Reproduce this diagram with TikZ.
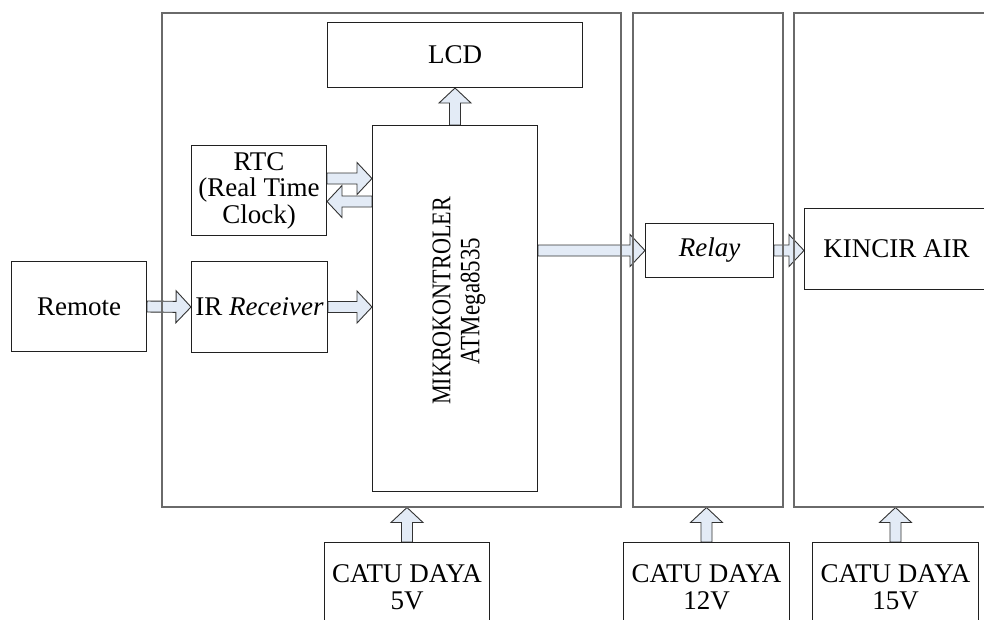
\documentclass[tikz,border=0pt]{standalone}
\usepackage{fontspec}
\setmainfont{Liberation Serif}
\newfontfamily\narrowserif[FakeStretch=0.82]{Liberation Serif}
\usepackage{tikz}
\usetikzlibrary{calc,backgrounds}

% hollow block arrow between two points
\newcommand{\blockarrow}[2]{%
  \draw[barrow] let \p1=(#1), \p2=(#2),
    \n1={atan2(\y2-\y1,\x2-\x1)}, \n2={veclen(\x2-\x1,\y2-\y1)} in
    [shift={(\p1)},rotate=\n1]
    (0pt,-5.5pt) -- ({(\n2-15)*1pt},-5.5pt) -- ({(\n2-15)*1pt},-16pt)
    -- ({\n2*1pt},0pt) -- ({(\n2-15)*1pt},16pt) -- ({(\n2-15)*1pt},5.5pt)
    -- (0pt,5.5pt) -- cycle;}

\begin{document}
\begin{tikzpicture}[
  x=1pt,
  y=-1pt,
  font=\fontsize{27}{26.5}\selectfont,
  frame/.style={draw=framegray,line width=1.5pt,inner sep=0pt,anchor=north west},
  block/.style={draw=blockline,line width=1pt,inner sep=0pt,anchor=north west,
    align=center},
  supply/.style={block,minimum height=90pt,font=\fontsize{27}{27}\selectfont},
  barrow/.style={fill=arrowfill,draw=arrowline,line width=0.9pt,line join=miter}
]
  \definecolor{framegray}{HTML}{6A6A6A}
  \definecolor{blockline}{HTML}{202020}
  \definecolor{arrowfill}{HTML}{E3EBF6}
  \definecolor{arrowline}{HTML}{333333}

  \clip (0,0) rectangle (984,619);

  % sections
  \node[frame,minimum width=459pt,minimum height=494pt] (sys) at (161,12) {};
  \node[frame,minimum width=150pt,minimum height=494pt] (drv) at (632,12) {};
  \node[frame,minimum width=220pt,minimum height=494pt] (act) at (793,12) {};

  % blocks
  \node[block,minimum width=255pt,minimum height=65pt] (lcd) at (327,22) {LCD};
  \node[block,minimum width=165pt,minimum height=366pt] (mcu) at (372,125) {};
  \node[rotate=90,align=center,font=\narrowserif\fontsize{27}{29}\selectfont]
    (mcutext) at (459,301) {MIKROKONTROLER\\\fontsize{28}{29}\selectfont ATMega8535};
  \node[block,minimum width=135pt,minimum height=90pt] (rtc) at (191,145)
    {RTC\\(Real Time\\Clock)};
  \node[block,minimum width=136pt,minimum height=91pt] (ir) at (191,261)
    {IR \textit{Receiver}};
  \node[block,minimum width=135pt,minimum height=90pt] (remote) at (11,261)
    {Remote};
  \node[block,minimum width=128pt,minimum height=54pt] (relay) at (645,223)
    {\textit{Relay}};
  \node[block,minimum width=184pt,minimum height=81pt] (kincir) at (804,208)
    {KINCIR AIR};
  \node[supply,minimum width=165pt] (catu5) at (324,542) {CATU DAYA\\5V};
  \node[supply,minimum width=166pt] (catu12) at (623,542) {CATU DAYA\\12V};
  \node[supply,minimum width=166pt] (catu15) at (812,542) {CATU DAYA\\15V};

  \coordinate (rtcout) at ($(rtc.east)+(0,-12)$);
  \coordinate (rtcin) at ($(rtc.east)+(0,11)$);

  % arrows
  \begin{scope}[on background layer]
    \fill[white] (0,0) rectangle (984,619);
    \blockarrow{remote.east}{ir.west}
    \blockarrow{ir.east}{mcu.west |- ir.east}
    \blockarrow{rtcout}{mcu.west |- rtcout}
    \blockarrow{mcu.west |- rtcin}{rtcin}
    \blockarrow{mcu.north}{lcd.south}
    \blockarrow{mcu.east |- relay.west}{relay.west}
    \blockarrow{relay.east}{kincir.west |- relay.east}
    \blockarrow{catu5.north}{sys.south -| catu5.north}
    \blockarrow{catu12.north}{drv.south -| catu12.north}
    \blockarrow{catu15.north}{act.south -| catu15.north}
  \end{scope}
\end{tikzpicture}
\end{document}
